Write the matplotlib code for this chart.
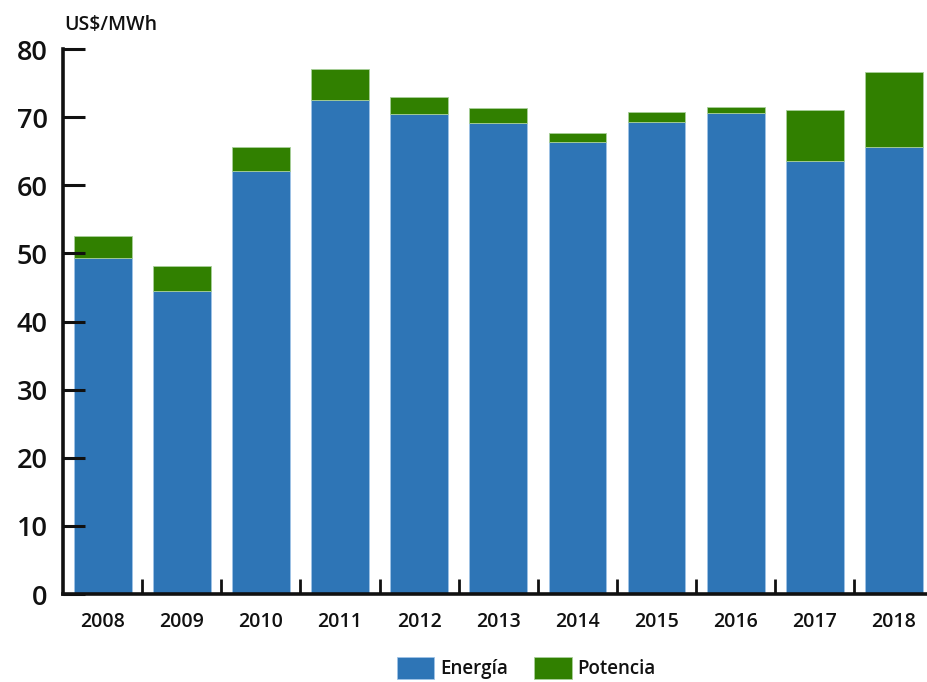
import matplotlib
matplotlib.use("Agg")
import matplotlib.pyplot as plt
import numpy as np

years = ["2008", "2009", "2010", "2011", "2012", "2013", "2014", "2015", "2016", "2017", "2018"]
energia = [49.3, 44.5, 62.1, 72.6, 70.5, 69.1, 66.4, 69.3, 70.6, 63.6, 65.6]
potencia = [3.3, 3.7, 3.5, 4.5, 2.5, 2.2, 1.3, 1.4, 0.9, 7.5, 11.0]
y_ticks = [0, 10, 20, 30, 40, 50, 60, 70, 80]

BLUE = "#2e75b6"
GREEN = "#318000"
INK = "#111111"

plt.rcParams["font.family"] = ["Open Sans", "DejaVu Sans"]
plt.rcParams["font.weight"] = 600

fig = plt.figure(figsize=(9.28, 6.82), dpi=100)
ax = fig.add_axes([0.068, 0.129, 0.932, 0.799])

x = np.arange(len(years))
ax.bar(x, energia, width=0.73, color=BLUE, edgecolor="#9fc3e6", linewidth=0.6, label="Energía")
ax.bar(x, potencia, width=0.73, bottom=energia, color=GREEN, edgecolor="#a8cf9a",
       linewidth=0.6, label="Potencia")

ax.set_xlim(-0.5, 10.43)
ax.set_ylim(0, 80)

for side in ("top", "right"):
    ax.spines[side].set_visible(False)
for side in ("left", "bottom"):
    ax.spines[side].set_linewidth(2.6)
    ax.spines[side].set_color(INK)

ax.set_yticks(y_ticks)
ax.tick_params(axis="y", direction="in", length=16, width=2.2, labelsize=19.5, pad=11,
               color=INK, labelcolor=INK)
ax.set_xticks(x)
ax.set_xticklabels(years)
ax.tick_params(axis="x", which="major", length=0, labelsize=14, pad=13, labelcolor=INK)
ax.set_xticks(x[:-1] + 0.5, minor=True)
ax.tick_params(axis="x", which="minor", direction="in", length=11, width=2.0, color=INK)

fig.text(0.069, 0.964, "US$/MWh", fontsize=14, ha="left", va="center", color=INK)

fig.legend(loc="center", bbox_to_anchor=(0.567, 0.02), ncol=2, frameon=False,
           fontsize=13.5, handlelength=2.0, handleheight=1.4, handletextpad=0.3,
           columnspacing=1.4, labelcolor=INK)

fig.savefig("out.png", dpi=100)
